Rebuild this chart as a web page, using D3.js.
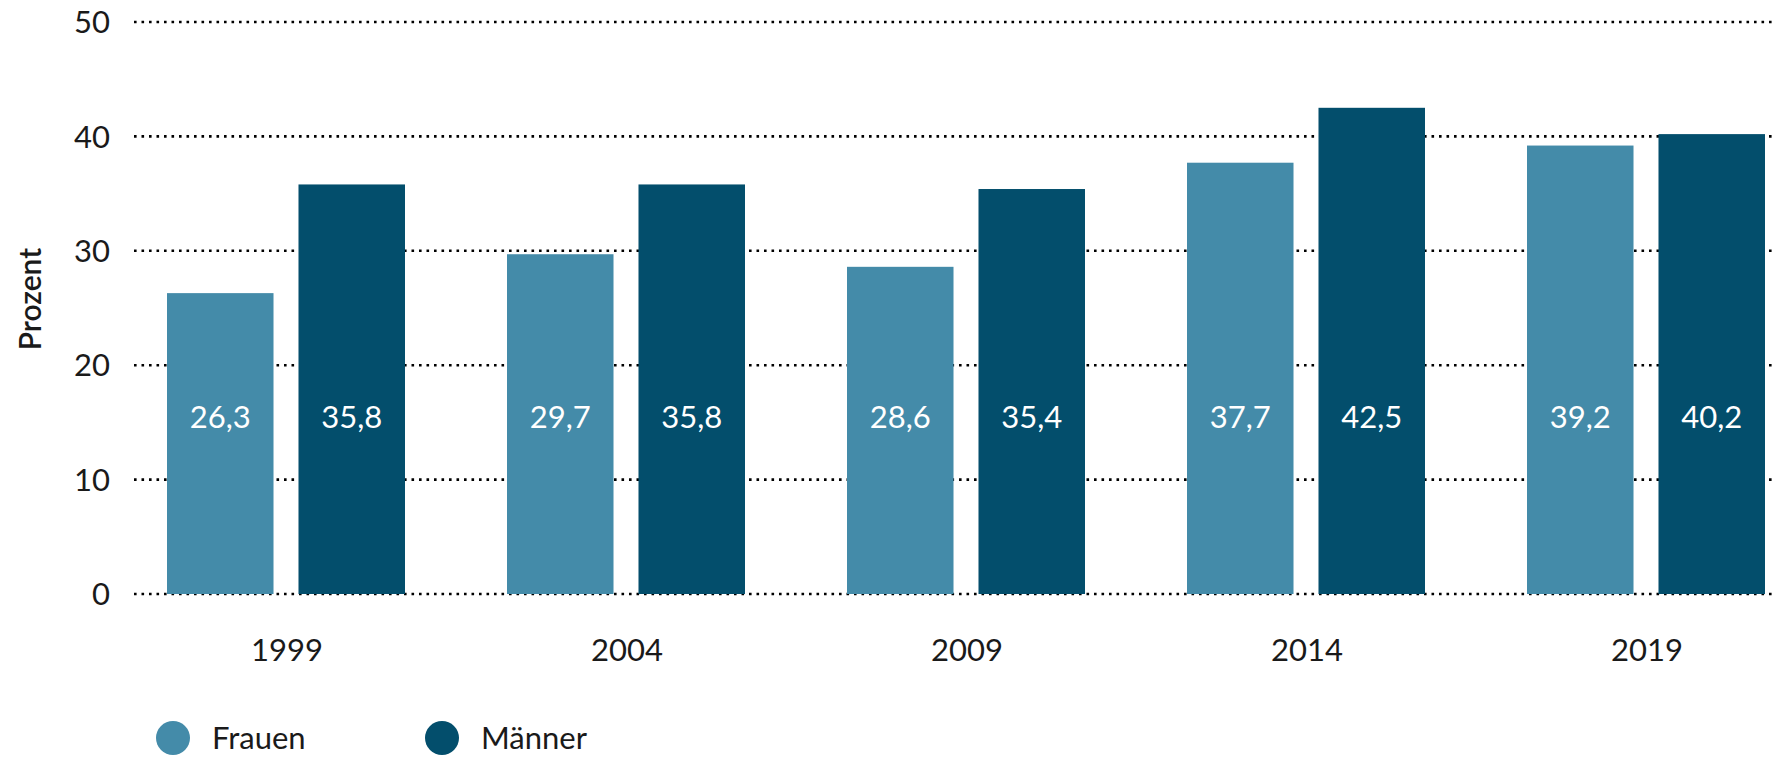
<!DOCTYPE html>
<html>
<head>
<meta charset="utf-8">
<script src="https://cdn.jsdelivr.net/npm/d3@7"></script>
<style>
    body { margin: 0; background: #fff; }
    svg text { font-family: Lato, 'Open Sans', sans-serif; fill: #1a1a1a; }
</style>
</head>
<body>
<div id="chart"></div>
<script>
const years = ['1999', '2004', '2009', '2014', '2019']
const frauen = [26.3, 29.7, 28.6, 37.7, 39.2]
const maenner = [35.8, 35.8, 35.4, 42.5, 40.2]
const seriesNames = ['Frauen', 'Männer']
const yTicks = [0, 10, 20, 30, 40, 50]

const width = 1775, height = 757
const colors = {'Frauen': '#448ba9', 'Männer': '#034e6c'}

const svg = d3.select('#chart').append('svg')
    .attr('width', width)
    .attr('height', height)

const y = d3.scaleLinear().domain([0, 50]).range([594, 22])

// groups are 340px apart, the last one runs off the right edge
const x0 = d3.scaleBand().domain(years).range([117, 117 + 340 * years.length])
const x1 = d3.scaleBand().domain(seriesNames).range([50, 288]).paddingInner(0.19)

// dotted grid lines
svg.append('g').selectAll('line')
    .data(yTicks)
    .enter().append('line')
    .attr('x1', 134)
    .attr('x2', width)
    .attr('y1', d => y(d))
    .attr('y2', d => y(d))
    .attr('stroke', '#000')
    .attr('stroke-width', 2.6)
    .attr('stroke-dasharray', '2.6,4.9')

svg.append('g').selectAll('text')
    .data(yTicks)
    .enter().append('text')
    .attr('x', 110)
    .attr('y', d => y(d))
    .attr('dy', '0.36em')
    .attr('text-anchor', 'end')
    .style('font-size', '31px')
    .text(d => d)

svg.append('text')
    .attr('transform', 'translate(30, 299) rotate(-90)')
    .attr('dy', '0.36em')
    .attr('text-anchor', 'middle')
    .style('font-size', '30px')
    .style('font-weight', 600)
    .text('Prozent')

const rows = years.map((yr, i) => ({year: yr, values: [
    {name: 'Frauen', value: frauen[i]},
    {name: 'Männer', value: maenner[i]}
]}))

const groups = svg.append('g').selectAll('g')
    .data(rows)
    .enter().append('g')
    .attr('transform', d => `translate(${x0(d.year)}, 0)`)

groups.selectAll('rect')
    .data(d => d.values)
    .enter().append('rect')
    .attr('x', d => x1(d.name))
    .attr('width', x1.bandwidth())
    .attr('y', d => y(d.value))
    .attr('height', d => y(0) - y(d.value))
    .attr('fill', d => colors[d.name])

// value labels all sit at the same height
groups.selectAll('text.val')
    .data(d => d.values)
    .enter().append('text')
    .attr('class', 'val')
    .attr('x', d => x1(d.name) + x1.bandwidth() / 2)
    .attr('y', y(15.5))
    .attr('dy', '0.36em')
    .attr('text-anchor', 'middle')
    .style('font-size', '31px')
    .style('fill', '#fff')
    .text(d => d3.format('.1f')(d.value).replace('.', ','))

groups.append('text')
    .attr('x', 170)
    .attr('y', 650)
    .attr('dy', '0.36em')
    .attr('text-anchor', 'middle')
    .style('font-size', '31px')
    .text(d => d.year)

// legend
const legend = svg.append('g').selectAll('g')
    .data(seriesNames)
    .enter().append('g')
    .attr('transform', (d, i) => `translate(${173 + i * 269}, 738)`)
legend.append('circle')
    .attr('r', 17)
    .attr('fill', d => colors[d])
legend.append('text')
    .attr('x', 39)
    .attr('dy', '0.36em')
    .style('font-size', '31px')
    .text(d => d)
</script>
</body>
</html>
